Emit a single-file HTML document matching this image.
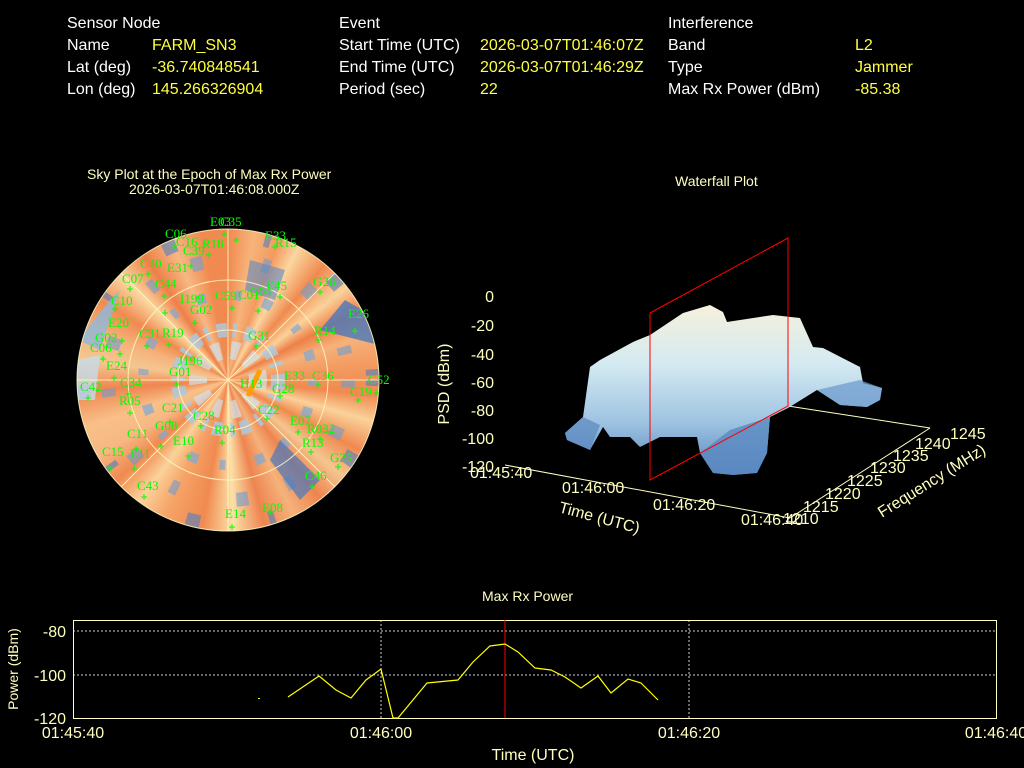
<!DOCTYPE html>
<html><head><meta charset="utf-8"><style>
body{margin:0;background:#000;width:1024px;height:768px;overflow:hidden;font-family:"Liberation Sans",sans-serif;}
.t{position:absolute;font-size:16px;color:#fff;white-space:nowrap}
.y{color:#ffff40}
.sky{position:absolute;left:77px;top:229px;width:302px;height:302px;border-radius:50%;
background:
conic-gradient(#f08a50 0deg,#f7b47a 10deg,#f39a60 20deg,#fbd6a0 28deg,#f08a50 40deg,#fad29a 52deg,#ee7f48 62deg,#f5b27a 72deg,#f39a60 84deg,#f08a50 96deg,#fad29a 106deg,#f08a50 118deg,#f5c690 130deg,#ee8450 142deg,#f5b27a 154deg,#ee8450 166deg,#fce0a8 178deg,#f08a50 190deg,#f6a468 205deg,#fad29a 216deg,#f08a50 228deg,#f7b884 240deg,#f8c088 252deg,#ef8650 266deg,#f5c690 278deg,#f5b27a 290deg,#f08a50 302deg,#fbd6a0 314deg,#ee8048 326deg,#f7b884 338deg,#f08a50 350deg,#f08a50 360deg);}
</style></head><body>
<div class="t" style="left:67px;top:15px">Sensor Node</div>
<div class="t" style="left:67px;top:37px">Name</div><div class="t y" style="left:152px;top:37px">FARM_SN3</div>
<div class="t" style="left:67px;top:59px">Lat (deg)</div><div class="t y" style="left:152px;top:59px">-36.740848541</div>
<div class="t" style="left:67px;top:81px">Lon (deg)</div><div class="t y" style="left:152px;top:81px">145.266326904</div>
<div class="t" style="left:339px;top:15px">Event</div>
<div class="t" style="left:339px;top:37px">Start Time (UTC)</div><div class="t y" style="left:480px;top:37px">2026-03-07T01:46:07Z</div>
<div class="t" style="left:339px;top:59px">End Time (UTC)</div><div class="t y" style="left:480px;top:59px">2026-03-07T01:46:29Z</div>
<div class="t" style="left:339px;top:81px">Period (sec)</div><div class="t y" style="left:480px;top:81px">22</div>
<div class="t" style="left:668px;top:15px">Interference</div>
<div class="t" style="left:668px;top:37px">Band</div><div class="t y" style="left:855px;top:37px">L2</div>
<div class="t" style="left:668px;top:59px">Type</div><div class="t y" style="left:855px;top:59px">Jammer</div>
<div class="t" style="left:668px;top:81px">Max Rx Power (dBm)</div><div class="t y" style="left:855px;top:81px">-85.38</div>

<div class="t" style="left:87px;top:166px;font-size:14px;color:#ffffc0">Sky Plot at the Epoch of Max Rx Power</div>
<div class="t" style="left:129px;top:181px;font-size:14px;color:#ffffc0">2026-03-07T01:46:08.000Z</div>
<div class="t" style="left:675px;top:173px;font-size:14px;color:#ffffc0">Waterfall Plot</div>
<div class="t" style="left:482px;top:588px;font-size:14px;color:#ffffc0">Max Rx Power</div>

<div class="sky"></div>
<svg width="1024" height="768" style="position:absolute;left:0;top:0">
<defs><clipPath id="cc"><circle cx="228" cy="380" r="151"/></clipPath>
<linearGradient id="wf" x1="0" y1="0" x2="0" y2="1"><stop offset="0" stop-color="#f6f0dc"/><stop offset=".35" stop-color="#d4eaf2"/><stop offset=".7" stop-color="#9cc2e0"/><stop offset="1" stop-color="#5582bd"/></linearGradient></defs>
<g clip-path="url(#cc)" fill="none">
<circle cx="228" cy="380" r="50" stroke="#a9cbe3" stroke-width="14" stroke-dasharray="10 6 4 8" opacity=".8"/>
<circle cx="228" cy="380" r="30" stroke="#cfe2ee" stroke-width="18" stroke-dasharray="8 10" opacity=".7"/>
<circle cx="228" cy="380" r="85" stroke="#7fa8d4" stroke-width="10" stroke-dasharray="6 22 10 30" opacity=".7"/>
<circle cx="228" cy="380" r="120" stroke="#6f9ccf" stroke-width="14" stroke-dasharray="8 40 12 60" opacity=".6"/>
<circle cx="228" cy="380" r="145" stroke="#4f7fc0" stroke-width="14" stroke-dasharray="6 70 14 90" opacity=".6"/>
<path d="M345 300 L379 320 L379 345 L320 330 Z" fill="#4a78bc" opacity=".8"/>
<path d="M78 340 L110 300 L120 290 L100 350 Z" fill="#8fb8dc" opacity=".8"/>
<path d="M77 360 L100 355 L95 400 L77 400 Z" fill="#c6dcea" opacity=".8"/>
<path d="M280 440 L320 480 L300 500 L270 460 Z" fill="#4a78bc" opacity=".7"/>
<path d="M250 260 L285 270 L275 300 L245 290 Z" fill="#5c8ac4" opacity=".6"/>
</g>
<g stroke="#fffac0" stroke-width="1" fill="none" opacity=".85">
<circle cx="228" cy="380" r="50"/><circle cx="228" cy="380" r="100"/><circle cx="228" cy="380" r="151"/>
<line x1="77" y1="380" x2="379" y2="380"/><line x1="228" y1="229" x2="228" y2="531"/>
<line x1="121" y1="273" x2="335" y2="487"/><line x1="335" y1="273" x2="121" y2="487"/>
</g>
<line x1="248" y1="396" x2="260" y2="370" stroke="#ffa000" stroke-width="5"/>
<g fill="#00ff00" font-family="Liberation Serif" font-size="13">
<text x="210" y="226">E03</text><text x="220" y="226">C35</text><text x="165" y="238">C06</text><text x="176" y="246">C16</text><text x="202" y="248">R18</text>
<text x="183" y="255">C39</text><text x="140" y="268">C40</text><text x="167" y="272">E31</text><text x="122" y="283">C07</text><text x="155" y="288">C44</text>
<text x="111" y="305">C10</text><text x="180" y="303">I199</text><text x="215" y="300">C59</text><text x="238" y="299">C01</text><text x="190" y="314">G02</text>
<text x="108" y="327">E20</text><text x="95" y="342">G02</text><text x="139" y="338">C31</text><text x="162" y="337">R19</text><text x="90" y="352">C06</text>
<text x="106" y="370">E24</text><text x="178" y="365">J196</text><text x="169" y="376">G01</text><text x="80" y="391">C42</text><text x="120" y="387">C34</text>
<text x="119" y="405">R05</text><text x="162" y="412">C21</text><text x="193" y="420">C28</text><text x="155" y="430">G08</text><text x="214" y="434">R04</text>
<text x="127" y="438">C11</text><text x="173" y="445">E10</text><text x="102" y="456">C15</text><text x="130" y="458">E11</text><text x="137" y="490">C43</text>
<text x="225" y="518">E14</text><text x="262" y="512">E08</text><text x="305" y="480">C46</text><text x="330" y="462">G25</text><text x="302" y="447">R13</text>
<text x="307" y="433">R032</text><text x="290" y="425">E07</text><text x="258" y="414">C22</text><text x="272" y="393">G28</text><text x="284" y="380">E33</text>
<text x="312" y="380">C36</text><text x="350" y="396">C19</text><text x="368" y="384">C52</text><text x="248" y="340">G31</text><text x="314" y="335">R14</text>
<text x="348" y="318">E26</text><text x="313" y="286">G26</text><text x="266" y="290">E45</text><text x="250" y="296">C04</text><text x="265" y="240">E33</text><text x="275" y="247">R15</text><text x="240" y="388">H13</text>
</g>
<g stroke="#00ff00" stroke-width="1">
<path d="M224 231v6M221 234h6M236 237v6M233 240h6M174 243v6M171 246h6M209 252v6M206 255h6M191 263v6M188 266h6M148 271v6M145 274h6M130 286v6M127 289h6M164 293v6M161 296h6M115 306v6M112 309h6M165 310v6M162 313h6M232 305v6M229 308h6M258 308v6M255 311h6M195 320v6M192 323h6M122 338v6M119 341h6M147 343v6M144 346h6M169 342v6M166 345h6M103 356v6M100 359h6M120 351v6M117 354h6M114 375v6M111 378h6M177 381v6M174 384h6M88 395v6M85 398h6M128 391v6M125 394h6M130 410v6M127 413h6M170 419v6M167 422h6M201 423v6M198 426h6M161 443v6M158 446h6M222 440v6M219 443h6M136 446v6M133 449h6M188 453v6M185 456h6M110 465v6M107 468h6M134 466v6M131 469h6M144 494v6M141 497h6M232 524v6M229 527h6M270 509v6M267 512h6M312 484v6M309 487h6M338 464v6M335 467h6M311 449v6M308 452h6M320 436v6M317 439h6M298 429v6M295 432h6M267 416v6M264 419h6M280 393v6M277 396h6M318 382v6M315 385h6M358 397v6M355 400h6M376 390v6M373 393h6M256 343v6M253 346h6M318 337v6M315 340h6M355 328v6M352 331h6M320 289v6M317 292h6M280 294v6M277 297h6M275 244v6M272 247h6"/>
</g>

<!-- waterfall -->
<g font-size="16" fill="#ffffc0" font-family="Liberation Sans">
<text x="494" y="302" text-anchor="end">0</text><text x="494" y="331" text-anchor="end">-20</text><text x="494" y="360" text-anchor="end">-40</text>
<text x="494" y="388" text-anchor="end">-60</text><text x="494" y="416" text-anchor="end">-80</text><text x="494" y="444" text-anchor="end">-100</text><text x="494" y="472" text-anchor="end">-120</text>
<text x="449" y="384" transform="rotate(-90 449 384)" text-anchor="middle">PSD (dBm)</text>
<text x="470" y="478">01:45:40</text><text x="562" y="493">01:46:00</text><text x="653" y="510">01:46:20</text><text x="741" y="525">01:46:40</text>
<text x="558" y="512" transform="rotate(15 558 512)">Time (UTC)</text>
<text x="783" y="524">1210</text><text x="803" y="512">1215</text><text x="825" y="499">1220</text><text x="847" y="486">1225</text><text x="870" y="473">1230</text><text x="893" y="461">1235</text><text x="915" y="449">1240</text><text x="950" y="439">1245</text>
<text x="882" y="518" transform="rotate(-32 882 518)">Frequency (MHz)</text>
</g>
<g stroke="#ffffc0" stroke-width="1"><line x1="505" y1="465" x2="790" y2="518"/><line x1="790" y1="518" x2="930" y2="428"/><line x1="788" y1="406" x2="930" y2="428"/></g>
<path d="M565 433 L583 417 L590 367 L600 360 L633 342 L650 335 L683 313 L710 305 L723 312 L727 322 L773 315 L800 318 L813 347 L823 348 L860 367 L863 383 L882 388 L880 400 L867 407 L840 405 L817 390 L788 408 L770 417 L767 453 L757 473 L733 475 L713 473 L700 453 L697 437 L660 437 L640 447 L630 437 L610 437 L603 427 L590 450 L567 440 Z" fill="url(#wf)"/>
<path d="M700 453 L713 473 L733 475 L757 473 L767 453 L770 417 L730 430 Z" fill="#5a88c0" opacity=".8"/>
<path d="M565 433 L583 417 L600 425 L590 450 L567 440 Z" fill="#5a88c0" opacity=".7"/>
<path d="M817 390 L840 405 L867 407 L880 400 L882 388 L860 380 Z" fill="#6a98cc" opacity=".7"/>
<g stroke="#ff0000" stroke-width="1" fill="none"><path d="M650 313 L788 238 L788 406 L650 480 Z"/></g>

<!-- bottom plot -->
<g stroke="#ffffff" stroke-width="1" stroke-dasharray="2,2" opacity=".8"><line x1="73" y1="631" x2="996" y2="631"/><line x1="73" y1="675" x2="996" y2="675"/><line x1="381" y1="620" x2="381" y2="718"/><line x1="689" y1="620" x2="689" y2="718"/></g>
<rect x="73.5" y="620.5" width="923" height="98" fill="none" stroke="#ffffc0"/>
<line x1="505" y1="620" x2="505" y2="718" stroke="#ff0000"/>
<rect x="258" y="698" width="2" height="1" fill="#ffff00"/>
<polyline fill="none" stroke="#ffff00" stroke-width="1.2" points="288,697 319,676 336,690 351,698 366,680 381,669 393,718 398,718 427,683 458,680 473,662 490,646 505,644 518,652 535,668 551,670 565,677 581,688 598,676 611,693 628,679 641,683 658,700"/>
<g font-size="16" fill="#ffffc0" font-family="Liberation Sans">
<text x="66" y="637" text-anchor="end">-80</text><text x="66" y="681" text-anchor="end">-100</text><text x="66" y="724" text-anchor="end">-120</text>
<text x="73" y="738" text-anchor="middle">01:45:40</text><text x="381" y="738" text-anchor="middle">01:46:00</text><text x="689" y="738" text-anchor="middle">01:46:20</text><text x="996" y="738" text-anchor="middle">01:46:40</text>
<text x="533" y="760" text-anchor="middle">Time (UTC)</text>
<text x="18" y="669" transform="rotate(-90 18 669)" text-anchor="middle" font-size="14">Power (dBm)</text>
</g>
</svg>
</body></html>
